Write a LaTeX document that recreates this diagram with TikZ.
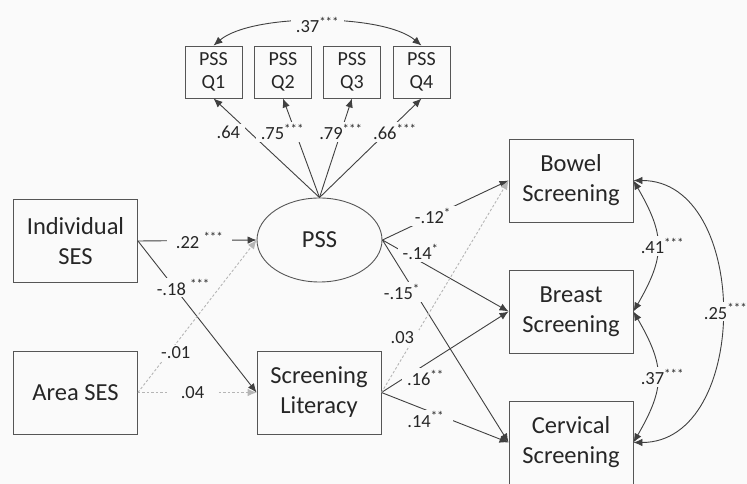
\documentclass[tikz,border=0pt]{standalone}
\usepackage{fontspec}
\setmainfont{Carlito}
\usetikzlibrary{arrows.meta,shapes.geometric}
\definecolor{bgc}{HTML}{FAFAFA}
\definecolor{linec}{HTML}{404040}
\definecolor{boxc}{HTML}{555555}
\definecolor{dotc}{HTML}{B5B5B5}
\definecolor{txtc}{HTML}{262626}
\begin{document}
\begin{tikzpicture}[x=1pt,y=1pt,
  box/.style={draw=boxc, line width=0.9pt, text=txtc, align=center, inner sep=0pt},
  bigbox/.style={box, minimum width=124pt, minimum height=83pt, font=\fontsize{24.5}{30}\selectfont},
  qbox/.style={box, minimum width=57pt, minimum height=52pt, font=\fontsize{20}{23.5}\selectfont},
  tip/.style={-{Latex[length=9pt,width=7.5pt]}},
  conn/.style={draw=linec, line width=0.9pt, tip},
  dconn/.style={draw=dotc, line width=0.9pt, dash pattern=on 2.5pt off 2pt, tip},
  both/.style={draw=linec, line width=0.9pt, {Latex[length=9pt,width=7.5pt]}-{Latex[length=9pt,width=7.5pt]}},
  lab/.style={fill=bgc, inner xsep=5pt, inner ysep=2pt, text=txtc, font=\fontsize{18.5}{20}\selectfont},
]
\path[fill=bgc] (0,0) rectangle (747,484);
\useasboundingbox (0,0) rectangle (747,484);

% nodes
\node[qbox] (q1) at (213.5,412) {PSS\\Q1};
\node[qbox] (q2) at (283,412) {PSS\\Q2};
\node[qbox] (q3) at (352,412) {PSS\\Q3};
\node[qbox] (q4) at (421.5,412) {PSS\\Q4};
\node[box, ellipse, minimum width=125pt, minimum height=84pt, font=\fontsize{24.5}{30}\selectfont] (pss) at (319.5,244) {PSS};
\node[bigbox] (ises) at (75.5,243) {Individual\\SES};
\node[bigbox] (ases) at (75.5,91.5) {Area SES};
\node[bigbox] (sl) at (319,91.5) {Screening\\Literacy};
\node[bigbox] (bow) at (571,303.5) {Bowel\\Screening};
\node[bigbox] (bre) at (571,172.5) {Breast\\Screening};
\node[bigbox] (cer) at (571,41.5) {Cervical\\Screening};

% solid paths
\draw[conn] (ises.east) -- node[lab,pos=0.52,inner xsep=9pt]{.22 \textsuperscript{***}} (pss.west);
\draw[conn] (ises.east) -- node[lab,pos=0.307,xshift=9pt]{-.18 \textsuperscript{***}} (sl.west);

\draw[conn] (pss.north) -- node[lab,pos=0.7,xshift=-17pt,yshift=-4pt]{.64} (q1.south);
\draw[conn] (pss.north) -- node[lab,pos=0.66,xshift=-13pt]{.75\textsuperscript{***}} (q2.south);
\draw[conn] (pss.north) -- node[lab,pos=0.66]{.79\textsuperscript{***}} (q3.south);
\draw[conn] (pss.north) -- node[lab,pos=0.66,xshift=8pt]{.66\textsuperscript{***}} (q4.south);

\draw[conn] (pss.east) -- node[lab,pos=0.4]{-.12\textsuperscript{*}} (bow.west);
\draw[conn] (pss.east) -- node[lab,pos=0.2,xshift=13pt,yshift=2pt]{-.14\textsuperscript{*}} (bre.west);
\draw[conn] (pss.east) -- node[lab,pos=0.257,xshift=-13pt]{-.15\textsuperscript{*}} (cer.west);

\draw[conn] (sl.east) -- node[lab,pos=0.22,xshift=16pt,yshift=-3pt]{.16\textsuperscript{**}} (bre.west);
\draw[conn] (sl.east) -- node[lab,pos=0.38,xshift=-4pt,yshift=-8pt,inner xsep=9pt]{.14\textsuperscript{**}} (cer.west);

% dotted (non-significant) paths
\draw[dconn] (ases.east) -- node[lab,pos=0.26,xshift=7pt]{-.01} (pss.west);
\draw[dconn] (ases.east) -- node[lab,pos=0.46,inner xsep=14pt]{.04} (sl.west);
\draw[dconn] (sl.east) -- node[lab,pos=0.259,xshift=-12pt]{.03} (bow.west);

% covariances
\draw[both] (q1.north) to[out=40,in=140,looseness=0.62] node[lab,pos=0.5,yshift=-4pt]{.37\textsuperscript{***}} (q4.north);
\draw[both] (bow.east) to[out=-60,in=60,looseness=1.25] node[lab,pos=0.5,xshift=5pt]{.41\textsuperscript{***}} (bre.east);
\draw[both] (bre.east) to[out=-60,in=60,looseness=1.25] node[lab,pos=0.5,xshift=5pt]{.37\textsuperscript{***}} (cer.east);
\draw[both] (bow.east) to[out=0,in=0,looseness=1.15] node[lab,pos=0.5,xshift=4pt]{.25\textsuperscript{***}} (cer.east);
\end{tikzpicture}
\end{document}
